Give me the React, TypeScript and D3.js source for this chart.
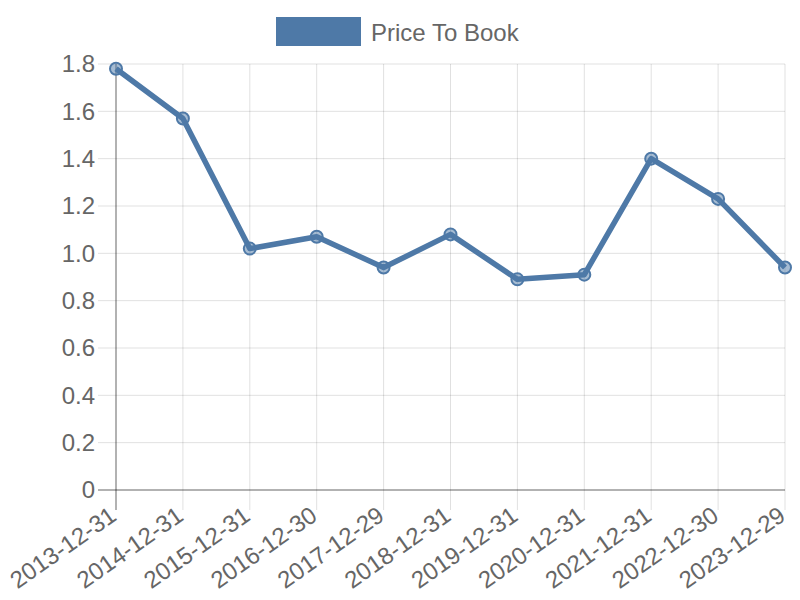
import React from "react";
import * as d3 from "d3";

const categories = [
  "2013-12-31", "2014-12-31", "2015-12-31", "2016-12-30", "2017-12-29",
  "2018-12-31", "2019-12-31", "2020-12-31", "2021-12-31", "2022-12-30", "2023-12-29",
];
const priceToBook = [1.78, 1.57, 1.02, 1.07, 0.94, 1.08, 0.89, 0.91, 1.40, 1.23, 0.94];
const yTicks = [0, 0.2, 0.4, 0.6, 0.8, 1.0, 1.2, 1.4, 1.6, 1.8];
const seriesName = "Price To Book";

export default function App() {
  const W = 800, H = 600;
  const left = 116, right = 785, top = 64, bottom = 490;
  const x = d3.scalePoint<string>().domain(categories).range([left, right]);
  const y = d3.scaleLinear().domain([0, 1.8]).range([bottom, top]);
  const color = "#4e79a7";
  const font = "'Liberation Sans', Arial, sans-serif";
  const line = d3.line<number>().x((_, i) => x(categories[i])!).y((d) => y(d));
  const fmt = (v: number) => (v === 0 ? "0" : v.toFixed(1));

  return (
    <svg width={W} height={H} style={{ position: "absolute", left: 0, top: 0 }} fontFamily={font}>
      {/* legend */}
      <rect x={276} y={17} width={85} height={29} fill={color} />
      <text x={371} y={41} fontSize={24} fill="#666">{seriesName}</text>

      {/* horizontal grid */}
      {yTicks.map((t) => (
        <line key={"h" + t} x1={98} x2={right} y1={y(t)} y2={y(t)}
          stroke={t === 0 ? "rgba(0,0,0,0.3)" : "rgba(0,0,0,0.12)"} strokeWidth={t === 0 ? 2 : 1} />
      ))}
      {/* vertical grid */}
      {categories.map((c, i) => (
        <line key={"v" + c} x1={x(c)!} x2={x(c)!} y1={top} y2={510}
          stroke={i === 0 ? "rgba(0,0,0,0.3)" : "rgba(0,0,0,0.12)"} strokeWidth={i === 0 ? 2 : 1} />
      ))}

      {/* y tick labels */}
      {yTicks.map((t) => (
        <text key={"yl" + t} x={95} y={y(t)} dy="0.35em" textAnchor="end" fontSize={24} fill="#666">
          {fmt(t)}
        </text>
      ))}
      {/* x tick labels */}
      {categories.map((c) => (
        <text key={"xl" + c} transform={`translate(${x(c)! + 2},${519}) rotate(-35)`}
          textAnchor="end" fontSize={24} fill="#666">
          {c}
        </text>
      ))}

      {/* line */}
      <path d={line(priceToBook) || ""} fill="none" stroke={color} strokeWidth={5.5} strokeLinejoin="round" />
      {priceToBook.map((v, i) => (
        <circle key={"p" + i} cx={x(categories[i])!} cy={y(v)} r={6}
          fill="rgba(78,121,167,0.5)" stroke={color} strokeWidth={2} />
      ))}
    </svg>
  );
}
